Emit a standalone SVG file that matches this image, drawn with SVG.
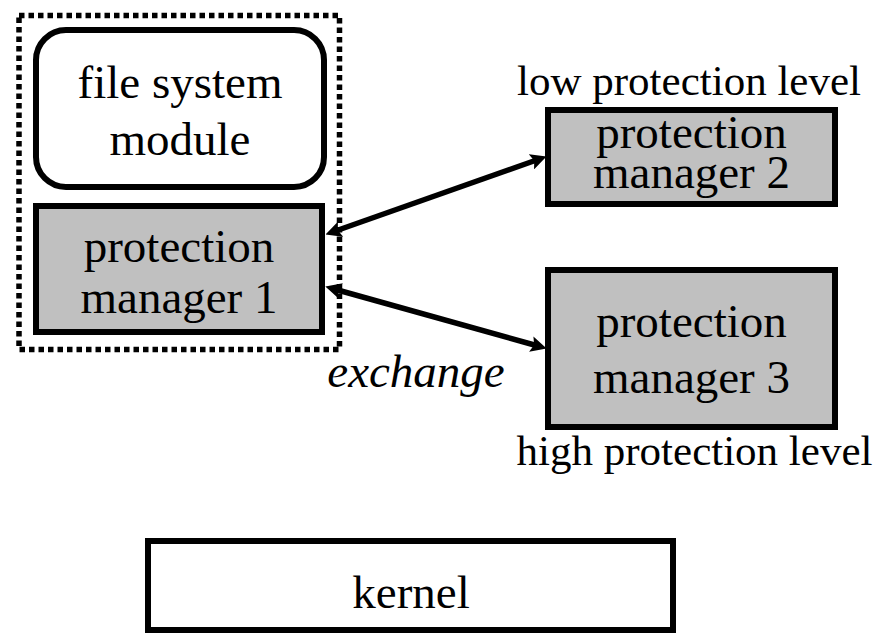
<svg xmlns="http://www.w3.org/2000/svg" width="887" height="636" viewBox="0 0 887 636">
<defs>
<style>
.box{stroke:#000;stroke-width:6;}
.gray{fill:#c0c0c0;}
.white{fill:#fff;}
text{font-family:'Liberation Serif','Times New Roman',Times,serif;fill:#000;text-anchor:middle;}
.t{font-size:47px;}
.lbl{font-size:43px;}
.conn{stroke:#000;stroke-width:5.5;fill:none;marker-start:url(#ah);marker-end:url(#ah);}
</style>
<marker id="ah" viewBox="0 0 16 16" refX="7" refY="8" markerWidth="16" markerHeight="16" markerUnits="userSpaceOnUse" orient="auto-start-reverse">
<path d="M0,0 L16,8 L0,16 L3,8 z" fill="#000"/>
</marker>
</defs>
<rect width="887" height="636" fill="#fff"/>
<g id="group-boundary">
<rect x="19" y="15.5" width="320.5" height="334" fill="none" stroke="#000" stroke-width="5.5" stroke-dasharray="5.5 4"/>
</g>
<g id="file-system-module">
<rect class="box white" x="36" y="30" width="288" height="157" rx="30" ry="30"/>
<text class="t" x="180" y="98" font-family="Liberation Serif, serif">file system</text>
<text class="t" x="180" y="155" font-family="Liberation Serif, serif">module</text>
</g>
<g id="protection-manager-1">
<rect class="box gray" x="36" y="206" width="286" height="126"/>
<text class="t" x="179" y="262" font-family="Liberation Serif, serif">protection</text>
<text class="t" x="179" y="313" font-family="Liberation Serif, serif">manager 1</text>
</g>
<g id="protection-manager-2">
<text class="lbl" x="689" y="95" font-family="Liberation Serif, serif">low protection level</text>
<rect class="box gray" x="548" y="110" width="287" height="94"/>
<text class="t" x="691.5" y="148" font-family="Liberation Serif, serif">protection</text>
<text class="t" x="691.5" y="188" font-family="Liberation Serif, serif">manager 2</text>
</g>
<g id="protection-manager-3">
<rect class="box gray" x="548" y="270" width="287" height="157"/>
<text class="t" x="691.5" y="337" font-family="Liberation Serif, serif">protection</text>
<text class="t" x="691.5" y="393" font-family="Liberation Serif, serif">manager 3</text>
<text class="lbl" x="694.5" y="465" font-family="Liberation Serif, serif">high protection level</text>
</g>
<g id="kernel">
<rect class="box white" x="148" y="541" width="525" height="89"/>
<text class="t" x="411" y="608" font-family="Liberation Serif, serif">kernel</text>
</g>
<g id="connectors">
<line class="conn" x1="334" y1="231.5" x2="538" y2="159.5"/>
<line class="conn" x1="334" y1="289" x2="538" y2="346"/>
<text class="t" x="416" y="387" font-style="italic" font-family="Liberation Serif, serif">exchange</text>
</g>
</svg>
